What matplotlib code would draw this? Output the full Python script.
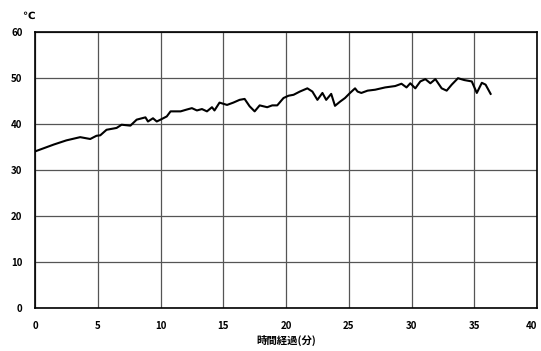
import matplotlib.pyplot as plt

plt.rcParams['font.family'] = ['Noto Sans CJK JP', 'DejaVu Sans']

# time (min) and temperature (deg C)
minutes = [0.0, 0.8, 1.5, 2.5, 3.6, 4.4, 4.9, 5.2, 5.7, 6.5, 6.9, 7.6, 8.1, 8.8,
           9.0, 9.4, 9.7, 10.0, 10.5, 10.8, 11.6, 12.1, 12.5, 12.9, 13.3, 13.7,
           14.1, 14.3, 14.7, 15.3, 15.8, 16.3, 16.7, 17.1, 17.5, 17.9, 18.5,
           18.9, 19.3, 19.8, 20.2, 20.6, 21.1, 21.7, 22.1, 22.5, 22.9, 23.2,
           23.6, 23.9, 24.3, 24.7, 25.1, 25.5, 25.7, 26.0, 26.5, 27.1, 27.9,
           28.7, 29.2, 29.6, 29.9, 30.3, 30.7, 31.1, 31.5, 31.9, 32.4, 32.8,
           33.2, 33.7, 34.2, 34.8, 35.2, 35.6, 35.9, 36.3]
temps = [34.0, 34.8, 35.5, 36.4, 37.1, 36.7, 37.4, 37.5, 38.7, 39.1, 39.8, 39.6,
         40.9, 41.4, 40.5, 41.2, 40.5, 40.9, 41.6, 42.7, 42.7, 43.1, 43.4, 42.9,
         43.2, 42.7, 43.6, 42.9, 44.6, 44.1, 44.6, 45.2, 45.4, 43.8, 42.7, 44.0,
         43.6, 44.0, 44.0, 45.6, 46.1, 46.3, 47.0, 47.7, 47.0, 45.2, 46.7, 45.2,
         46.5, 43.9, 44.8, 45.6, 46.7, 47.7, 47.0, 46.7, 47.2, 47.4, 47.9, 48.2,
         48.7, 47.9, 48.8, 47.7, 49.2, 49.7, 48.8, 49.7, 47.7, 47.2, 48.5, 49.9,
         49.5, 49.2, 46.7, 48.9, 48.5, 46.5]

xticks = [0, 5, 10, 15, 20, 25, 30, 35, 40]
yticks = [0, 10, 20, 30, 40, 50, 60]

fig = plt.figure(figsize=(5.41, 3.51), dpi=100)
ax = fig.add_axes([0.0647, 0.1225, 0.928, 0.7872])

ax.plot(minutes, temps, color='black', linewidth=1.5)

ax.set_xlim(0, 40)
ax.set_ylim(0, 60)
ax.set_xticks(xticks)
ax.set_yticks(yticks)
ax.grid(True, color='#555555', linewidth=0.9)
ax.tick_params(length=0, labelsize=7, pad=9)
for lbl in ax.get_xticklabels() + ax.get_yticklabels():
    lbl.set_fontweight('bold')
ax.get_xticklabels()[-1].set_ha('right')
for s in ax.spines.values():
    s.set_linewidth(1.2)

ax.set_xlabel('時間経過(分)', fontsize=7.5, fontweight='bold', labelpad=3)
fig.text(0.052, 0.955, '℃', fontsize=7.5, fontweight='bold', ha='center', va='center',
         family=['DejaVu Sans'])

fig.savefig('out.png', dpi=100)
